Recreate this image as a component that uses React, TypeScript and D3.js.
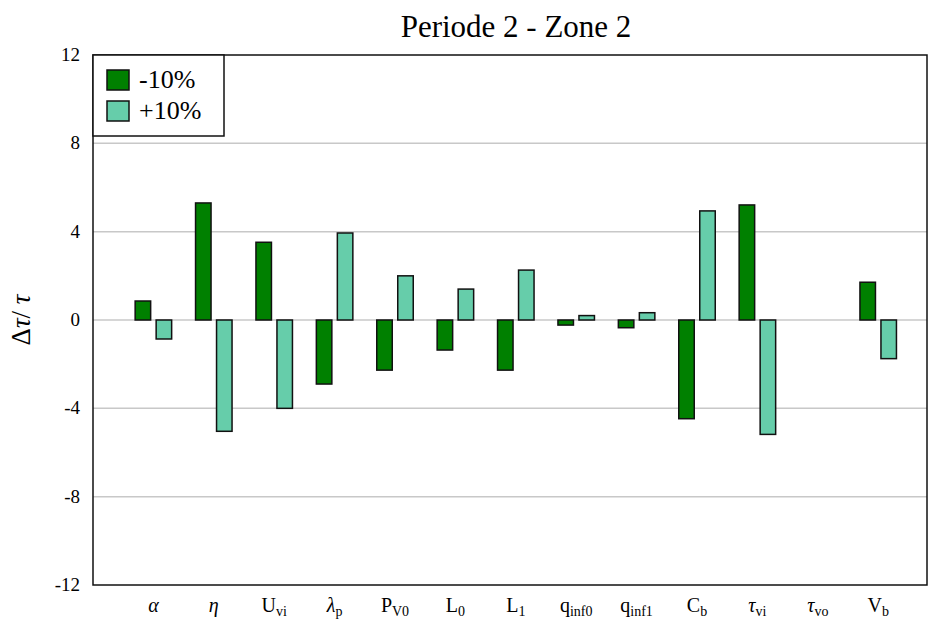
import React from "react";
import * as d3 from "d3";

const categories = ["alpha", "eta", "Uvi", "lambdap", "PV0", "L0", "L1", "qinf0", "qinf1", "Cb", "tauvi", "tauvo", "Vb"];
const labelMain = ["α", "η", "U", "λ", "P", "L", "L", "q", "q", "C", "τ", "τ", "V"];
const labelSub = ["", "", "vi", "p", "V0", "0", "1", "inf0", "inf1", "b", "vi", "vo", "b"];
const labelItalic = [true, true, false, true, false, false, false, false, false, false, true, true, false];
const minus10 = [0.86, 5.3, 3.52, -2.9, -2.27, -1.36, -2.27, -0.23, -0.35, -4.47, 5.21, 0, 1.71];
const plus10 = [-0.86, -5.04, -4.0, 3.94, 2.0, 1.4, 2.26, 0.2, 0.33, 4.94, -5.18, 0, -1.75];
const yTicks = [12, 8, 4, 0, -4, -8, -12];
const gridTicks = [8, 4, 0, -4, -8];
const seriesNames = ["-10%", "+10%"];
const seriesColors = ["#008000", "#66cdaa"];

export default function App() {
  const W = 928, H = 621;
  const left = 93, right = 927, top = 55, bottom = 585;
  const y = d3.scaleLinear().domain([-12, 12]).range([bottom, top]);
  const x = d3.scaleLinear().domain([0, 1]).range([left, left + 60.4]);
  const barW = 15.5;
  const off = 10.5;
  const font = "Liberation Serif, Times New Roman, serif";
  const series = [minus10, plus10];

  return (
    <svg width={W} height={H} style={{ position: "absolute", left: 0, top: 0, background: "#fff", fontFamily: font }}>
      <text x={516} y={37} textAnchor="middle" fontSize={31} style={{ fontFamily: font }}>Periode 2 - Zone 2</text>
      {gridTicks.map((t) => (
        <line key={t} x1={left} x2={right} y1={y(t)} y2={y(t)} stroke="#c8c8c8" strokeWidth={1.5} />
      ))}
      {yTicks.map((t) => (
        <text key={t} x={80} y={y(t) + 6} textAnchor="end" fontSize={19} style={{ fontFamily: font }}>{t}</text>
      ))}
      <text transform={`translate(30,${y(0)}) rotate(-90)`} textAnchor="middle" fontSize={27} style={{ fontFamily: font }}>
        Δ<tspan fontStyle="italic">τ</tspan>/ <tspan fontStyle="italic">τ</tspan>
      </text>
      {categories.map((c, i) => {
        const cx = x(i + 1);
        return (
          <g key={c}>
            {series.map((s, k) => {
              const v = s[i];
              if (v === 0) return null;
              const bx = cx + (k === 0 ? -off : off) - barW / 2;
              return (
                <rect key={k} x={bx} y={Math.min(y(v), y(0))} width={barW} height={Math.abs(y(v) - y(0))}
                  fill={seriesColors[k]} stroke="#111" strokeWidth={1.5} />
              );
            })}
            <text x={cx} y={612} textAnchor="middle" fontSize={20} style={{ fontFamily: font }}>
              <tspan fontStyle={labelItalic[i] ? "italic" : "normal"}>{labelMain[i]}</tspan>
              {labelSub[i] && <tspan fontSize={14} dy={4}>{labelSub[i]}</tspan>}
            </text>
          </g>
        );
      })}
      <rect x={left} y={top} width={right - left} height={bottom - top} fill="none" stroke="#111" strokeWidth={1.5} />
      <rect x={left} y={top} width={131} height={81} fill="#fff" stroke="#111" strokeWidth={1.5} />
      {seriesNames.map((n, k) => (
        <g key={n}>
          <rect x={107} y={70 + k * 31} width={22} height={20} fill={seriesColors[k]} stroke="#111" strokeWidth={1.5} />
          <text x={139} y={88 + k * 31} fontSize={26} style={{ fontFamily: font }}>{n}</text>
        </g>
      ))}
    </svg>
  );
}
